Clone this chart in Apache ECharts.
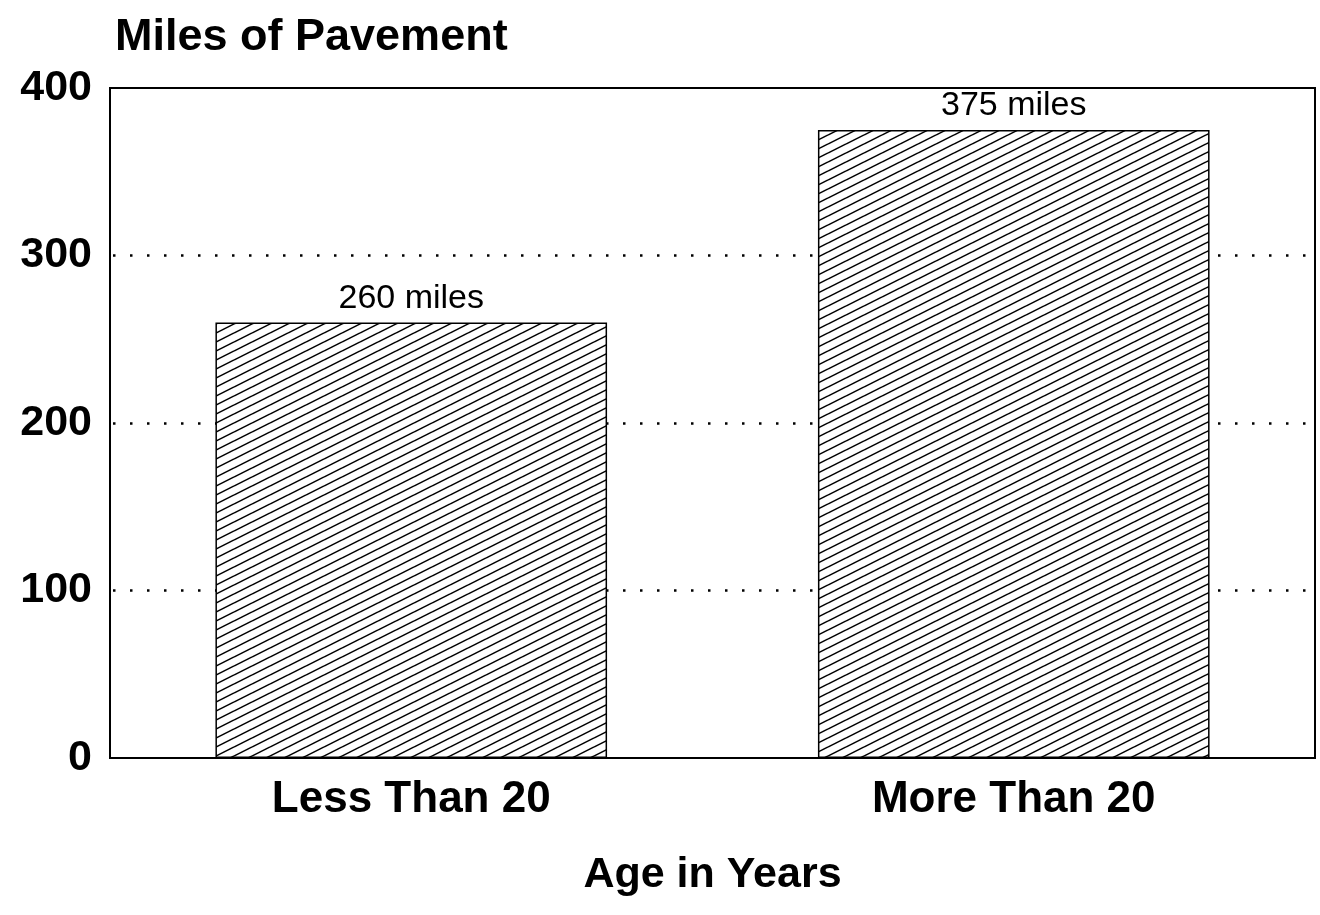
<!DOCTYPE html>
<html>
<head>
<meta charset="utf-8">
<script src="https://cdn.jsdelivr.net/npm/echarts@6/dist/echarts.min.js"></script>
<style>
    html, body { margin: 0; padding: 0; background: #fff; }
    #chart { width: 1320px; height: 915px; }
</style>
</head>
<body>
<div id="chart"></div>
<script>
const categories = ["Less Than 20", "More Than 20"];
const miles = [260, 375];
const yTicks = [0, 100, 200, 300, 400];

// diagonal hatch tile, white behind so the grid dots stay hidden
function hatch() {
    const w = 18, h = 9;
    const c = document.createElement("canvas");
    c.width = w;
    c.height = h;
    const ctx = c.getContext("2d");
    ctx.fillStyle = "#fff";
    ctx.fillRect(0, 0, w, h);
    ctx.strokeStyle = "#000";
    ctx.lineWidth = 1.5;
    for (let k = -1; k <= 1; k++) {
        ctx.beginPath();
        ctx.moveTo(0, h + k * h);
        ctx.lineTo(w, k * h);
        ctx.stroke();
    }
    return c;
}

const font = "'Liberation Sans', Arial, Helvetica, sans-serif";

const chart = echarts.init(document.getElementById("chart"));
chart.setOption({
    animation: false,
    textStyle: { fontFamily: font },
    title: {
        text: "Miles of Pavement",
        left: 110,
        top: 10,
        textStyle: { fontFamily: font, fontSize: 45, fontWeight: "bold", color: "#000" },
    },
    grid: {
        left: 110,
        right: 5,
        top: 88,
        bottom: 157,
        show: true,
        borderColor: "#000",
        borderWidth: 2,
        backgroundColor: "transparent",
    },
    xAxis: {
        type: "category",
        data: categories,
        name: "Age in Years",
        nameLocation: "middle",
        nameGap: 96,
        nameTextStyle: { fontFamily: font, fontSize: 43, fontWeight: "bold", color: "#000" },
        axisLine: { lineStyle: { color: "#000", width: 2 } },
        axisTick: { show: false },
        axisLabel: { margin: 20, fontFamily: font, fontSize: 44, fontWeight: "bold", color: "#000" },
    },
    yAxis: {
        type: "value",
        min: yTicks[0],
        max: yTicks[yTicks.length - 1],
        interval: 100,
        axisLine: { show: true, lineStyle: { color: "#000", width: 2 } },
        axisTick: { show: false },
        axisLabel: { margin: 18, fontFamily: font, fontSize: 43, fontWeight: "bold", color: "#000" },
        splitLine: {
            showMinLine: false,
            showMaxLine: false,
            lineStyle: { color: "#000", width: 2.5, type: [2.5, 14.5], dashOffset: 14 },
        },
    },
    series: [
        {
            type: "bar",
            data: miles,
            barWidth: "65%",
            itemStyle: {
                color: { image: hatch(), repeat: "repeat" },
                borderColor: "#000",
                borderWidth: 1.5,
            },
            label: {
                show: true,
                position: "top",
                distance: 7,
                formatter: (p) => p.value + " miles",
                fontFamily: font,
                fontSize: 34,
                color: "#000",
            },
        },
    ],
});
</script>
</body>
</html>
